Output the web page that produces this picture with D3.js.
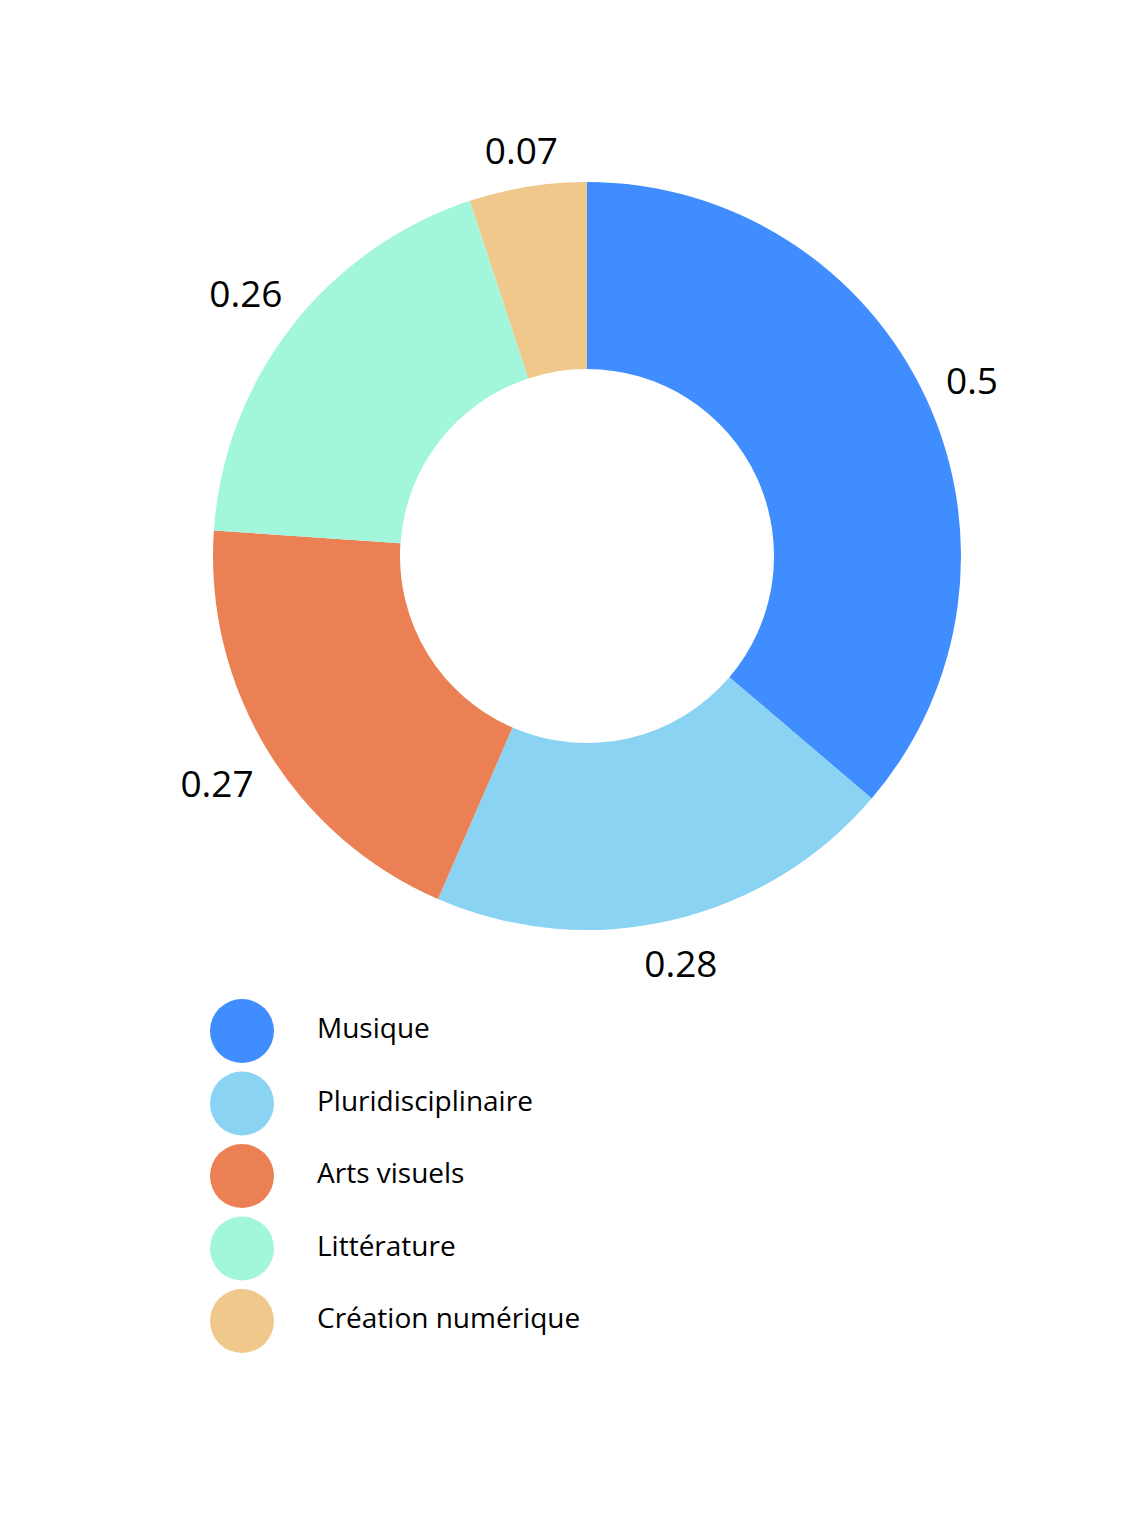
<!DOCTYPE html>
<html>
<head>
<meta charset="utf-8">
<script src="https://cdn.jsdelivr.net/npm/d3@7"></script>
<style>
  body { margin: 0; background: #fff; }
  text { font-family: "Open Sans", sans-serif; fill: #000; }
</style>
</head>
<body>
<div id="graph"></div>
<script>
const categories = ["Musique", "Pluridisciplinaire", "Arts visuels", "Littérature", "Création numérique"];
const values = [0.5, 0.28, 0.27, 0.26, 0.07];
const colors = ["#408dff", "#8bd3f3", "#ec8055", "#a2f6db", "#f0c88b"];

const width = 1123, height = 1513;
const cx = 587, cy = 556, outerR = 374, innerR = 187;
const labelGap = 21, labelSize = 37;

let svg = d3.select("#graph").
append("svg").
attr("width", width).
attr("height", height);

const pie = d3.pie().sort(null).value(d => d);
const arcs = pie(values);
const arc = d3.arc().innerRadius(innerR).outerRadius(outerR);

const color = d3.scaleOrdinal().domain(categories).range(colors);

let g = svg.append("g").attr("transform", "translate(" + cx + "," + cy + ")");

g.selectAll("path").
data(arcs).
enter().
append("path").
attr("d", arc).
attr("fill", (d, i) => color(categories[i]));

// outside labels: pushed out along the mid angle until the text box clears the ring
const labels = g.selectAll("text.lbl").
data(arcs).
enter().
append("text").
attr("class", "lbl").
attr("text-anchor", "middle").
attr("dy", "0.43em").
style("font-size", labelSize + "px").
text(d => d.data);

labels.each(function (d) {
  const a = (d.startAngle + d.endAngle) / 2;
  const s = Math.sin(a), c = Math.cos(a);
  const hw = this.getComputedTextLength() / 2;
  const hh = 13;
  const dist = outerR + labelGap + Math.abs(s) * hw + Math.abs(c) * hh;
  d3.select(this).attr("x", s * dist).attr("y", -c * dist);
});

// legend
const legY = d3.scalePoint().domain(categories).range([1031, 1321]);

let legend = svg.append("g");
legend.selectAll("circle").
data(categories).
enter().
append("circle").
attr("cx", 242).
attr("cy", d => legY(d)).
attr("r", 32).
attr("fill", d => color(d));

legend.selectAll("text").
data(categories).
enter().
append("text").
attr("x", 317).
attr("y", d => legY(d) + 7).
style("font-size", "28px").
text(d => d);
</script>
</body>
</html>
